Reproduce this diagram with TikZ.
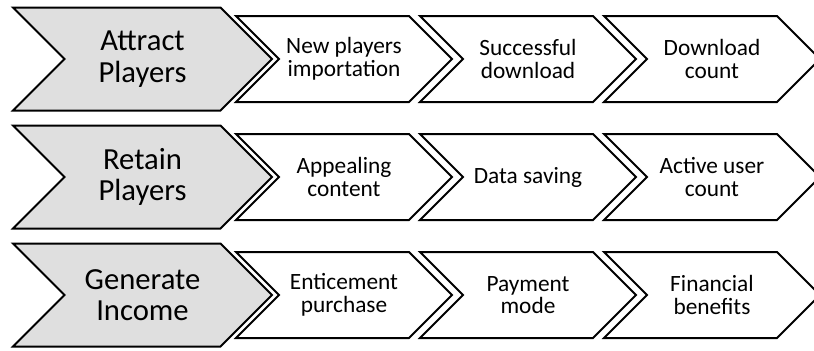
\documentclass[tikz,border=0pt]{standalone}
\usepackage{fontspec}
\setmainfont{Carlito}
\begin{document}
\begin{tikzpicture}[x=0.75pt,y=-0.75pt,
  chev/.style={draw=black,line width=1.5pt,line join=miter},
  bigchev/.style={chev,fill=gray!25},
  smallchev/.style={chev,fill=white},
  bigtxt/.style={font=\fontsize{23}{23.5}\selectfont,align=center,inner sep=0pt},
  smalltxt/.style={font=\fontsize{17.5}{17}\selectfont,align=center,inner sep=0pt}]
\useasboundingbox (0,0) rectangle (814,350);
% big chevrons: left 13, width 259, half height 51.5
\foreach \r/\m/\t in {1/59/{Attract\\Players},2/177/{Retain\\Players},3/295/{Generate\\Income}}{
  \draw[bigchev] (13,\m-51.5) -- (220.5,\m-51.5) -- (272,\m) -- (220.5,\m+51.5) -- (13,\m+51.5) -- (64.5,\m) -- cycle;
  \node[bigtxt] (big\r) at (142.5,\m) {\t};
}
% small chevrons: width 216, half height 43
\foreach \r/\m/\a/\b/\c in {1/59/{New players\\importation}/{Successful\\download}/{Download\\count},
                           2/177/{Appealing\\content}/{Data saving}/{Active user\\count},
                           3/295/{Enticement\\purchase}/{Payment\\mode}/{Financial\\benefits}}{
  \foreach \k/\L/\t in {1/236/\a,2/420/\b,3/604/\c}{
    \draw[smallchev] (\L,\m-43) -- (\L+173,\m-43) -- (\L+216,\m) -- (\L+173,\m+43) -- (\L,\m+43) -- (\L+43,\m) -- cycle;
    \node[smalltxt] (s\r\k) at (\L+108,\m) {\t};
  }
}
\end{tikzpicture}
\end{document}
